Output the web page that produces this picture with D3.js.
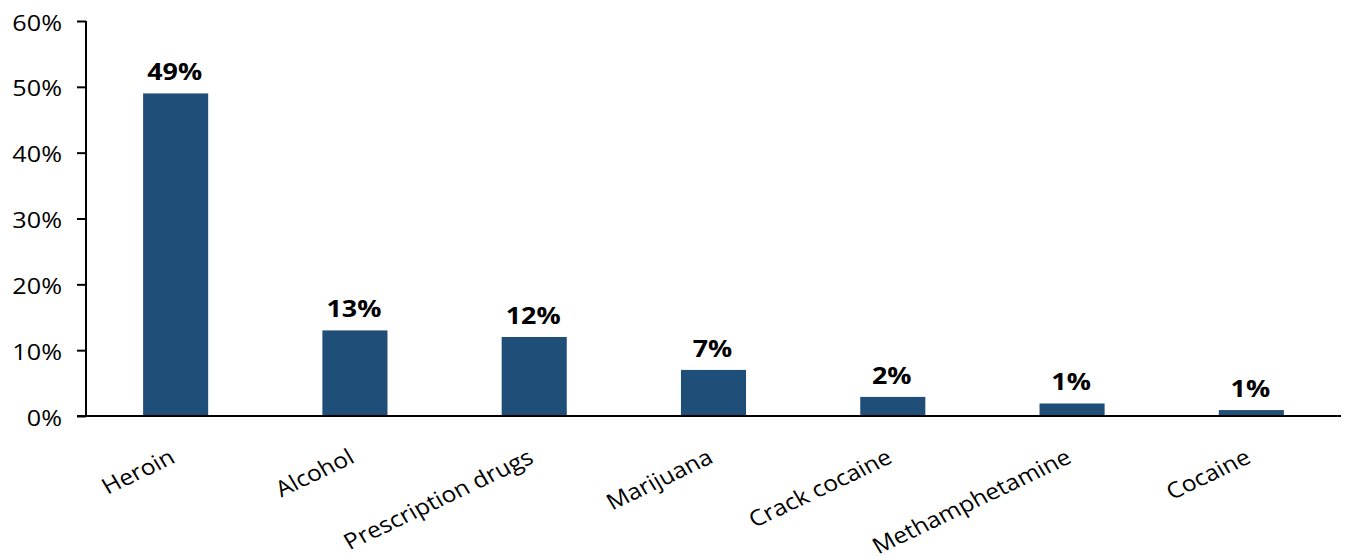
<!DOCTYPE html>
<html>
<head>
<meta charset="utf-8">
<script src="https://cdn.jsdelivr.net/npm/d3@7"></script>
<style>
    body { margin: 0; background: #fff; }
    svg { display: block; font-family: "Open Sans", "Noto Sans", sans-serif; }
</style>
</head>
<body>
<div id="chart"></div>
<script>
const categories = ["Heroin", "Alcohol", "Prescription drugs", "Marijuana", "Crack cocaine", "Methamphetamine", "Cocaine"];
const values = [49, 13, 12, 7, 2.9, 1.9, 0.9];
const valueLabels = ["49%", "13%", "12%", "7%", "2%", "1%", "1%"];
const yTicks = [0, 10, 20, 30, 40, 50, 60];

const svgWidth = 1345;
const svgHeight = 556;
const plotLeft = 86;
const plotRight = 1341;
const plotTop = 21;
const plotBottom = 416;
// the original text looks a bit stretched sideways
const stretch = 1.12;

const svg = d3.select("#chart")
    .append("svg")
    .attr("width", svgWidth)
    .attr("height", svgHeight);

const xScale = d3.scaleBand()
    .domain(categories)
    .range([plotLeft, plotRight])
    .paddingInner(0.637)
    .paddingOuter(0.3185);

const yScale = d3.scaleLinear()
    .domain([0, 60])
    .range([plotBottom, plotTop]);

const barColor = "#1f4e79";

svg.selectAll("rect.bar")
    .data(categories)
    .enter()
    .append("rect")
    .attr("class", "bar")
    .attr("x", d => xScale(d))
    .attr("y", (d, i) => yScale(values[i]))
    .attr("width", xScale.bandwidth())
    .attr("height", (d, i) => plotBottom - yScale(values[i]))
    .attr("fill", barColor);

svg.selectAll("text.value")
    .data(categories)
    .enter()
    .append("text")
    .attr("class", "value")
    .attr("transform", (d, i) => `translate(${xScale(d) + xScale.bandwidth() / 2 - 1}, ${yScale(values[i]) - 13}) scale(1.12, 1)`)
    .attr("text-anchor", "middle")
    .attr("font-size", "24px")
    .attr("font-weight", "bold")
    .attr("fill", "#000")
    .text((d, i) => valueLabels[i]);

// y axis
const yAxisGroup = svg.append("g")
    .attr("transform", `translate(${plotLeft}, 0)`)
    .call(d3.axisLeft(yScale).tickValues(yTicks).tickSize(9).tickFormat(d => d + "%"));

yAxisGroup.select(".domain").attr("d", `M0,${plotTop}V${plotBottom}`).attr("stroke", "#000").attr("stroke-width", 2);
yAxisGroup.selectAll(".tick line").attr("stroke", "#000").attr("stroke-width", 2);
yAxisGroup.selectAll(".tick text")
    .attr("x", 0)
    .attr("dy", "9px")
    .attr("transform", `translate(-24, 0) scale(${stretch}, 1)`)
    .attr("font-size", "22.5px")
    .attr("font-family", "'Open Sans', 'Noto Sans', sans-serif")
    .attr("fill", "#000");

// x axis
const xAxisGroup = svg.append("g")
    .attr("transform", `translate(0, ${plotBottom})`)
    .call(d3.axisBottom(xScale).tickSize(0).tickPadding(0));

xAxisGroup.select(".domain").attr("d", `M${plotLeft - 9},0H${plotRight}`).attr("stroke", "#000").attr("stroke-width", 2);
xAxisGroup.selectAll(".tick text")
    .attr("font-size", "22px")
    .attr("font-family", "'Open Sans', 'Noto Sans', sans-serif")
    .attr("fill", "#000")
    .attr("text-anchor", "end")
    .attr("y", 0)
    .attr("dy", "0")
    .attr("transform", `translate(1, 46) scale(${stretch}, 1) rotate(-28)`);
</script>
</body>
</html>
